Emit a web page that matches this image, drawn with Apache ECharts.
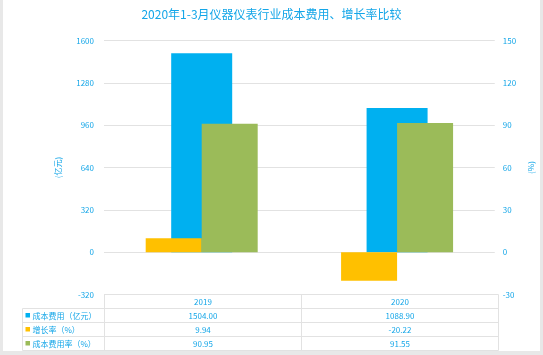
<!DOCTYPE html>
<html><head><meta charset="utf-8">
<script src="https://cdn.jsdelivr.net/npm/echarts@6/dist/echarts.min.js"></script>
<style>
html,body{margin:0;padding:0;background:#e8e8e8;overflow:hidden;}
#bg{position:absolute;left:3px;top:0;width:537px;height:351px;background:#fff;}
#c{position:absolute;left:0;top:0;width:543px;height:355px;}
</style></head>
<body><div id="bg"></div><div id="c"></div>
<script>
const categories = ['2019', '2020'];
const seriesNames = ['成本费用（亿元）', '增长率（%）', '成本费用率（%）'];
const cost = [1504.00, 1088.90];
const growth = [9.94, -20.22];
const costRate = [90.95, 91.55];
const leftTicks = [-320, 0, 320, 640, 960, 1280, 1600];
const rightTicks = [-30, 0, 30, 60, 90, 120, 150];

const TXT = '#14a6e8';
const FONT = '"Microsoft YaHei","Noto Sans CJK SC",sans-serif';
const colors = ['#00B0F0', '#FFC000', '#9BBB59'];
const LINE = '#e2e2e2';

const chart = echarts.init(document.getElementById('c'), null, {renderer: 'canvas'});

// table layout
const colX = [22.5, 104.5, 301.5, 498.5];
const rowY = [294.5, 308.5, 322.5, 336.5, 350.5];
const g = [];
function line(x1, y1, x2, y2) {
  g.push({type: 'line', silent: true, shape: {x1, y1, x2, y2}, style: {stroke: LINE, lineWidth: 1}});
}
function text(t, x, y, align) {
  g.push({type: 'text', silent: true, x, y,
    style: {text: t, fill: TXT, font: '8px ' + FONT, textAlign: align, textVerticalAlign: 'middle', align: align, verticalAlign: 'middle'}});
}
line(colX[1], rowY[0], colX[3], rowY[0]);
for (let i = 1; i < rowY.length; i++) line(colX[0], rowY[i], colX[3], rowY[i]);
line(colX[0], rowY[1], colX[0], rowY[4]);
for (let i = 1; i < colX.length; i++) line(colX[i], rowY[0], colX[i], rowY[4]);
categories.forEach((c, j) => text(c, (colX[j + 1] + colX[j + 2]) / 2, (rowY[0] + rowY[1]) / 2 + 0.5, 'center'));
const rows = [cost, growth, costRate];
rows.forEach((arr, i) => {
  const yc = (rowY[i + 1] + rowY[i + 2]) / 2;
  g.push({type: 'rect', silent: true, shape: {x: 25.5, y: yc - 2.5, width: 4.5, height: 4.5}, style: {fill: colors[i]}});
  text(seriesNames[i], 32.5, yc, 'left');
  arr.forEach((v, j) => text(v.toFixed(2), (colX[j + 1] + colX[j + 2]) / 2, yc, 'center'));
});

const option = {
  animation: false,
  title: {
    text: '2020年1-3月仪器仪表行业成本费用、增长率比较',
    left: 'center', top: 8, padding: 0,
    textStyle: {color: TXT, fontSize: 12, fontWeight: 'normal', fontFamily: FONT}
  },
  grid: {left: 104, right: 44, top: 40.5, bottom: 60.5, containLabel: false},
  xAxis: [
    {type: 'category', data: categories, show: false},
    {type: 'category', data: categories, show: false}
  ],
  yAxis: [
    {type: 'value', min: leftTicks[0], max: leftTicks[leftTicks.length - 1], interval: leftTicks[1] - leftTicks[0],
      name: '(亿元)', nameLocation: 'middle', nameRotate: 90, nameGap: 42,
      nameTextStyle: {color: TXT, fontSize: 8, fontFamily: FONT},
      axisLine: {show: false}, axisTick: {show: false},
      axisLabel: {color: TXT, fontSize: 8, margin: 10, fontFamily: FONT, formatter: v => String(v)},
      splitLine: {lineStyle: {color: LINE, width: 1}}},
    {type: 'value', min: rightTicks[0], max: rightTicks[rightTicks.length - 1], interval: rightTicks[1] - rightTicks[0],
      name: '(%)', nameLocation: 'middle', nameRotate: 90, nameGap: 27,
      nameTextStyle: {color: TXT, fontSize: 8, fontFamily: FONT},
      axisLine: {show: false}, axisTick: {show: false},
      axisLabel: {color: TXT, fontSize: 8, margin: 8, fontFamily: FONT, formatter: v => String(v)},
      splitLine: {show: false}}
  ],
  series: [
    {name: seriesNames[0], type: 'bar', xAxisIndex: 0, yAxisIndex: 0, data: cost, barWidth: 61,
      itemStyle: {color: colors[0]}},
    {name: seriesNames[1], type: 'bar', xAxisIndex: 1, yAxisIndex: 1, data: growth, barWidth: 56, barGap: '0%',
      itemStyle: {color: colors[1]}},
    {name: seriesNames[2], type: 'bar', xAxisIndex: 1, yAxisIndex: 1, data: costRate, barWidth: 56, barGap: '0%',
      itemStyle: {color: colors[2]}}
  ],
  graphic: {elements: g}
};
chart.setOption(option);
</script>
</body></html>
